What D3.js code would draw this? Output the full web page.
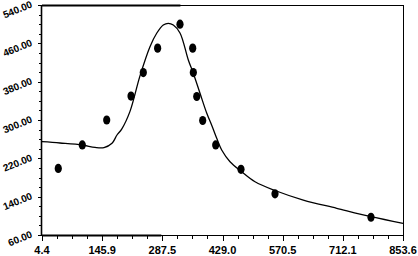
<!DOCTYPE html>
<html><head><meta charset="utf-8">
<script src="https://cdn.jsdelivr.net/npm/d3@7"></script>
<style>
html,body{margin:0;padding:0;background:#fff;}
svg{display:block;}
text{font-family:"Liberation Sans",Arial,sans-serif;font-weight:bold;font-size:11px;fill:#000;}
text.yl{font-size:10px;}
</style></head>
<body>
<script>
// Data points (x, y)
const pointX = [42.7, 99.2, 156.6, 213.8, 242.7, 276.4, 329.0, 358.9, 360.4, 368.4, 382.4, 413.0, 472.5, 552.5, 778.3];
const pointY = [199, 248, 300, 350, 399, 450, 500, 450, 399, 349, 299, 248, 197, 146, 97];
// Fitted curve samples
const curveX = [4.4, 46.7, 99.2, 129.1, 150.2, 169.1, 180.8, 191.9, 211.4, 234.9, 258.4, 274.2, 289.7, 301.5, 313.3, 329.0, 348.6, 360.3, 376.1, 391.8, 404.3, 415.4, 427.1, 446.7, 474.2, 505.5, 552.5, 619.1, 697.7, 778.3, 853.6];
const curveY = [254.7, 252, 247.8, 242.8, 242.4, 251.4, 268.7, 281, 318, 392, 453, 481, 498.3, 501.8, 498.3, 481.6, 425.2, 397.5, 355.7, 314.6, 287.5, 261.8, 237.4, 213, 192.1, 171.2, 152.9, 133, 115.7, 98.2, 84.4];
// Tick labels
const xTicks = [4.4, 145.9, 287.5, 429.0, 570.5, 712.1, 853.6];
const xTickLabels = ["4.4", "145.9", "287.5", "429.0", "570.5", "712.1", "853.6"];
const yTicks = [60, 140, 220, 300, 380, 460, 540];
const yTickLabels = ["60.00", "140.00", "220.00", "300.00", "380.00", "460.00", "540.00"];

const W = 418, H = 256;
const m = {left: 42, top: 5, right: 15, bottom: 21};
const svg = d3.select("body").append("svg").attr("width", W).attr("height", H);

const x = d3.scaleLinear().domain([4.4, 853.6]).range([m.left, W - m.right]);
const y = d3.scaleLinear().domain([60, 540]).range([H - m.bottom, m.top]);

// minor ticks
const xStep = (853.6 - 4.4) / 6;
const xMinor = d3.range(0, 25).map(i => 4.4 + i * xStep / 4);
const yMinor = d3.range(60, 541, 20);

const g = svg.append("g");
g.selectAll(".xm").data(xMinor).join("line")
  .attr("x1", d => Math.round(x(d)) + 0.5).attr("x2", d => Math.round(x(d)) + 0.5)
  .attr("y1", y(60)).attr("y2", y(60) + 4).attr("stroke", "#000").attr("stroke-width", 1);
g.selectAll(".xM").data(xTicks).join("line")
  .attr("x1", d => Math.round(x(d)) + 0.5).attr("x2", d => Math.round(x(d)) + 0.5)
  .attr("y1", y(60)).attr("y2", y(60) + 6).attr("stroke", "#000").attr("stroke-width", 1);
g.selectAll(".ym").data(yMinor).join("line")
  .attr("x1", x(4.4) - 3).attr("x2", x(4.4))
  .attr("y1", d => Math.round(y(d)) + 0.5).attr("y2", d => Math.round(y(d)) + 0.5)
  .attr("stroke", "#000").attr("stroke-width", 1);
g.selectAll(".yM").data(yTicks).join("line")
  .attr("x1", x(4.4) - 4).attr("x2", x(4.4))
  .attr("y1", d => Math.round(y(d)) + 0.5).attr("y2", d => Math.round(y(d)) + 0.5)
  .attr("stroke", "#000").attr("stroke-width", 1);

// frame
const fx0 = x(4.4), fx1 = x(853.6), fy0 = y(540), fy1 = y(60);
svg.append("line").attr("x1", fx0).attr("x2", fx1).attr("y1", fy0 + 0.5).attr("y2", fy0 + 0.5).attr("stroke", "#000").attr("stroke-width", 1);
svg.append("line").attr("x1", fx0).attr("x2", x(330)).attr("y1", fy0 + 0.5).attr("y2", fy0 + 0.5).attr("stroke", "#000").attr("stroke-width", 2);
svg.append("line").attr("x1", fx1 + 0.5).attr("x2", fx1 + 0.5).attr("y1", fy0).attr("y2", fy1).attr("stroke", "#000").attr("stroke-width", 1);
svg.append("line").attr("x1", fx0).attr("x2", fx1 + 1).attr("y1", fy1 + 0.5).attr("y2", fy1 + 0.5).attr("stroke", "#000").attr("stroke-width", 1);
svg.append("line").attr("x1", fx0).attr("x2", x(285)).attr("y1", fy1 + 0.5).attr("y2", fy1 + 0.5).attr("stroke", "#000").attr("stroke-width", 2);
svg.append("line").attr("x1", fx0 - 0.5).attr("x2", fx0 - 0.5).attr("y1", fy0).attr("y2", fy1 + 1).attr("stroke", "#000").attr("stroke-width", 1.6);

// x labels
svg.selectAll(".xl").data(xTicks).join("text")
  .attr("x", d => x(d)).attr("y", H - 2).attr("text-anchor", "middle")
  .text((d, i) => xTickLabels[i]);
// y labels (rotated)
svg.selectAll(".yl").data(yTicks).join("text")
  .attr("class", "yl")
  .attr("text-anchor", "end")
  .attr("transform", d => `translate(33,${y(d) + 2}) rotate(-22)`)
  .text((d, i) => yTickLabels[i]);

// curve
const curveData = curveX.map((v, i) => [v, curveY[i]]);
svg.append("path").datum(curveData)
  .attr("d", d3.line().x(d => x(d[0])).y(d => y(d[1])).curve(d3.curveCatmullRom))
  .attr("fill", "none").attr("stroke", "#000").attr("stroke-width", 1.3);

// points
const pts = pointX.map((v, i) => [v, pointY[i]]);
svg.selectAll(".pt").data(pts).join("ellipse")
  .attr("cx", d => x(d[0])).attr("cy", d => y(d[1]))
  .attr("rx", 3.6).attr("ry", 4.6).attr("fill", "#000");
</script>
</body></html>
